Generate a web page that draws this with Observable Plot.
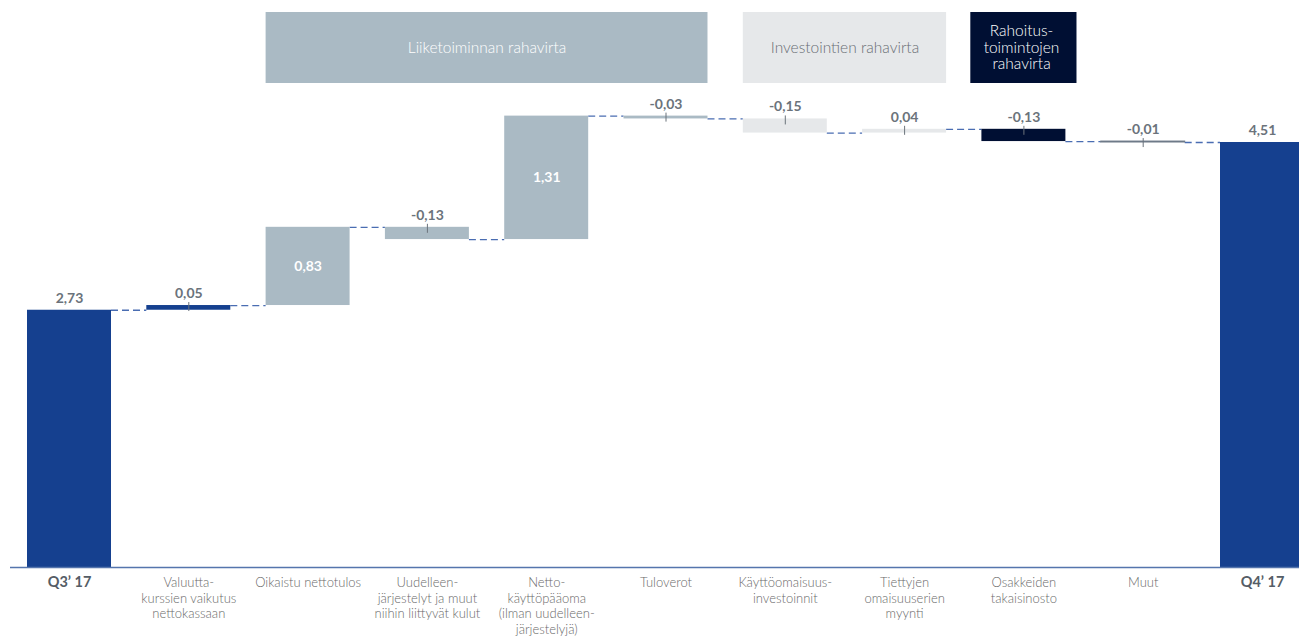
<!DOCTYPE html>
<html><head><meta charset="utf-8">
<script src="https://cdn.jsdelivr.net/npm/d3@7"></script>
<script src="https://cdn.jsdelivr.net/npm/@observablehq/plot@0.6"></script>
<style>
html,body{margin:0;padding:0;background:#fff;overflow:hidden}
#chart svg{display:block}
</style></head><body><div id="chart"></div>
<script>
// ---- data ----
const categories = [
  "Q3’ 17",
  "Valuutta-\nkurssien vaikutus\nnettokassaan",
  "Oikaistu nettotulos",
  "Uudelleen-\njärjestelyt ja muut\nniihin liittyvät kulut",
  "Netto-\nkäyttöpääoma\n(ilman uudelleen-\njärjestelyjä)",
  "Tuloverot",
  "Käyttöomaisuus-\ninvestoinnit",
  "Tiettyjen\nomaisuuserien\nmyynti",
  "Osakkeiden\ntakaisinosto",
  "Muut",
  "Q4’ 17"
];
const values = [2.73, 0.05, 0.83, -0.13, 1.31, -0.03, -0.15, 0.04, -0.13, -0.01, 4.51];
const kinds = ["total","fx","operating","operating","operating","operating","investing","investing","financing","other","total"];
const valueLabels = ["2,73","0,05","0,83","-0,13","1,31","-0,03","-0,15","0,04","-0,13","-0,01","4,51"];
const groupNames = ["Liiketoiminnan rahavirta","Investointien rahavirta","Rahoitus-\ntoimintojen\nrahavirta"];
const groupStart = [2, 6, 8];
const groupEnd = [5, 7, 8];
const groupKinds = ["operating","investing","financing"];

// ---- derived tables ----
const fillOf = {total:"#15408f", fx:"#15408f", operating:"#aabac4", investing:"#e6e8ea", financing:"#000f33", other:"#6e7a88"};
const HW = 0.352; // half bar width in band units
let run = 0;
const bars = values.map((v, i) => {
  let s, e;
  if (kinds[i] === "total") { s = 0; e = v; run = v; }
  else { s = run; e = run + v; run = e; }
  return {i, s, e, lo: Math.min(s, e), hi: Math.max(s, e), kind: kinds[i], label: valueLabels[i], cat: categories[i]};
});
const connectors = bars.slice(0, -1).map(b => ({v: b.e, a: b.i + HW, b: b.i + 1 - HW}));
const inside = bars.filter(b => b.i === 2 || b.i === 4);
const above = bars.filter(b => !(b.i === 2 || b.i === 4));
const ticked = bars.filter(b => b.kind !== "total" && !(b.i === 2 || b.i === 4));
const groups = groupNames.map((name, k) => ({name, start: groupStart[k], end: groupEnd[k], kind: groupKinds[k]}));

const font = "Lato, 'Open Sans', sans-serif";

const chart = Plot.plot({
  width: 1299,
  height: 637,
  marginTop: 12,
  marginBottom: 71,
  marginLeft: 10,
  marginRight: 0,
  style: {fontFamily: font, background: "#fff"},
  x: {type: "linear", domain: [0, 10], range: [69, 1262], axis: null},
  y: {domain: [0, 4.51], range: [567, 142], axis: null},
  marks: [
    // group header boxes
    Plot.rect(groups, {
      x1: d => d.start - (d.start === d.end ? 0.445 : HW),
      x2: d => d.end + (d.start === d.end ? 0.445 : HW),
      insetBottom: 566 - 83,
      fill: d => fillOf[d.kind]
    }),
    Plot.text(groups, {
      x: d => (d.start + d.end) / 2 + (d.start === d.end ? -0.02 : 0),
      text: "name",
      frameAnchor: "top",
      lineAnchor: "middle",
      dy: 35,
      fontSize: 15.5,
      fontWeight: 300,
      lineHeight: 1.07,
      fill: d => d.kind === "investing" ? "#6a6f75" : "#ffffff"
    }),
    // connectors
    Plot.ruleY(connectors, {y: "v", x1: "a", x2: "b", stroke: "#4a6db2", strokeWidth: 1.3, strokeDasharray: "7,4"}),
    // bars
    Plot.rect(bars, {
      x1: d => d.i - HW, x2: d => d.i + HW, y1: "lo", y2: "hi",
      fill: d => fillOf[d.kind],
      stroke: d => d.kind === "other" ? fillOf.other : "none",
      strokeWidth: 1
    }),
    // axis baseline
    Plot.ruleY([0], {stroke: "#5575ad", strokeWidth: 1.3}),
    // ticks
    Plot.ruleX(ticked, {x: "i", y1: "hi", y2: "hi", insetTop: 6, insetBottom: 3, stroke: "#6b737b", strokeWidth: 1}),
    // value labels above
    Plot.text(above, {x: "i", y: "hi", text: "label", dy: -12, fontSize: 14, fontWeight: 700, fill: "#6b737b"}),
    // value labels inside
    Plot.text(inside, {x: "i", y: d => (d.lo + d.hi) / 2, text: "label", fontSize: 14, fontWeight: 700, fill: "#ffffff"}),
    // category labels
    Plot.text(bars.filter(b => b.kind !== "total"), {
      x: "i", text: "cat", frameAnchor: "bottom", dy: 9, lineAnchor: "top",
      fontSize: 13, fontWeight: 300, lineHeight: 1.22, fill: "#6a6a6a"
    }),
    Plot.text(bars.filter(b => b.kind === "total"), {
      x: "i", text: "cat", frameAnchor: "bottom", dy: 10, lineAnchor: "top",
      fontSize: 14.5, fontWeight: 700, fill: "#555d66"
    })
  ]
});
document.getElementById("chart").appendChild(chart);
</script></body></html>
